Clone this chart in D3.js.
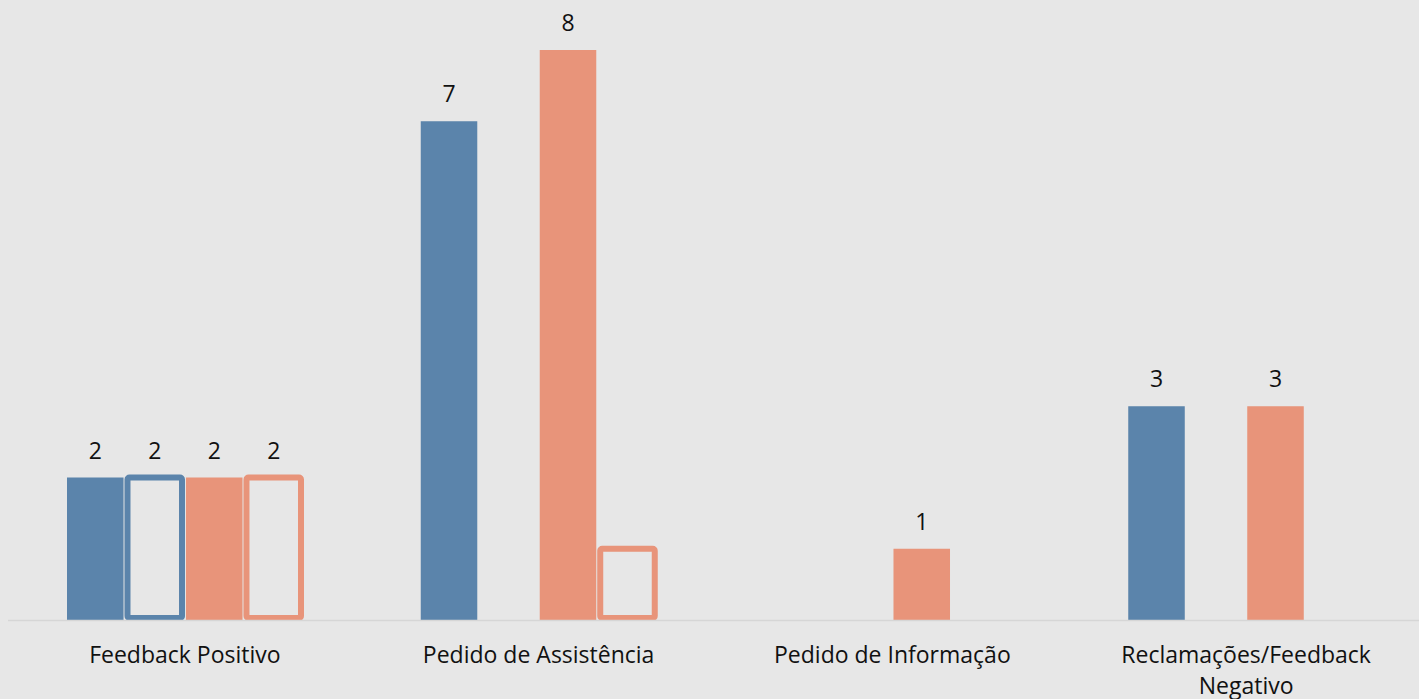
<!DOCTYPE html>
<meta charset="utf-8">
<title>Tipos de contacto</title>
<script src="https://d3js.org/d3.v7.min.js"></script>
<style>
  body { margin: 0; background: #e7e7e7; }
  text { font-family: "Open Sans", "Noto Sans", sans-serif; fill: #111; }
</style>
<body>
<script>

var w = 1419
var h = 699

// categories and series
var categories = ["Feedback Positivo", "Pedido de Assistência", "Pedido de Informação", "Reclamações/Feedback Negativo"];
var series = ["Série 1", "Série 2", "Série 3", "Série 4"];
var serie1 = [2, 7, 0, 3];
var serie2 = [2, 0, 0, 0];
var serie3 = [2, 8, 1, 3];
var serie4 = [2, 1, 0, 0];
// which data labels are shown in the original
var labels1 = [true, true, false, true];
var labels2 = [true, false, false, false];
var labels3 = [true, true, true, true];
var labels4 = [true, false, false, false];

var values = [serie1, serie2, serie3, serie4];
var showLabels = [labels1, labels2, labels3, labels4];
var colors = ["#5b84ab", "#5b84ab", "#e8947a", "#e8947a"];
var outlined = [false, true, false, true];

var svg = d3.select("body")
  .append("svg")
  .attr("width", w)
  .attr("height", h);

svg.append("rect").attr("width", w).attr("height", h).attr("fill", "#e7e7e7");

var baseline = 620;

var x0 = d3.scaleBand()
  .domain(categories)
  .range([8, 1423]);

var x1 = d3.scaleBand()
  .domain(series)
  .range([59, 294])
  .paddingInner(0.05);

var y = d3.scaleLinear()
  .domain([0, 8])
  .range([baseline, 50]);

// rows of data
var rows = [];
categories.forEach(function(c, i) {
  series.forEach(function(s, j) {
    rows.push({cat: c, serie: s, j: j, value: values[j][i], label: showLabels[j][i]});
  });
});

var g = svg.append("g");

g.selectAll("rect.bar")
  .data(rows.filter(function(d) { return d.value > 0; }))
  .enter()
  .append("rect")
    .attr("class", "bar")
    .attr("x", function(d) { return x0(d.cat) + x1(d.serie) + (outlined[d.j] ? 1 : 0); })
    .attr("width", function(d) { return x1.bandwidth() - (outlined[d.j] ? 2 : 0); })
    .attr("y", function(d) { return y(d.value); })
    .attr("height", function(d) { return baseline - y(d.value) - (outlined[d.j] ? 2 : 0); })
    .attr("rx", function(d) { return outlined[d.j] ? 2 : 0; })
    .attr("fill", function(d) { return outlined[d.j] ? "none" : colors[d.j]; })
    .attr("stroke", function(d) { return outlined[d.j] ? colors[d.j] : "none"; })
    .attr("stroke-width", 6);

// axis line
svg.append("line")
  .attr("x1", 8).attr("x2", w)
  .attr("y1", baseline + 0.5).attr("y2", baseline + 0.5)
  .attr("stroke", "#d6d6d6")
  .attr("stroke-width", 1.5);

// data labels
g.selectAll("text.val")
  .data(rows.filter(function(d) { return d.value > 0 && d.label; }))
  .enter()
  .append("text")
    .attr("class", "val")
    .attr("x", function(d) { return x0(d.cat) + x1(d.serie) + x1.bandwidth() / 2; })
    .attr("y", function(d) { return y(d.value) - 19; })
    .attr("text-anchor", "middle")
    .style("font-size", "23px")
    .text(function(d) { return d.value; });

// category labels, wrapped like the original
var catLines = {
  "Reclamações/Feedback Negativo": ["Reclamações/Feedback", "Negativo"]
};
categories.forEach(function(c) {
  var lines = catLines[c] || [c];
  var t = svg.append("text")
    .attr("x", x0(c) + x0.bandwidth() / 2)
    .attr("y", 663)
    .attr("text-anchor", "middle")
    .style("font-size", "23px");
  lines.forEach(function(l, k) {
    t.append("tspan")
      .attr("x", x0(c) + x0.bandwidth() / 2)
      .attr("dy", k == 0 ? 0 : 31)
      .text(l);
  });
});

</script>
</body>
